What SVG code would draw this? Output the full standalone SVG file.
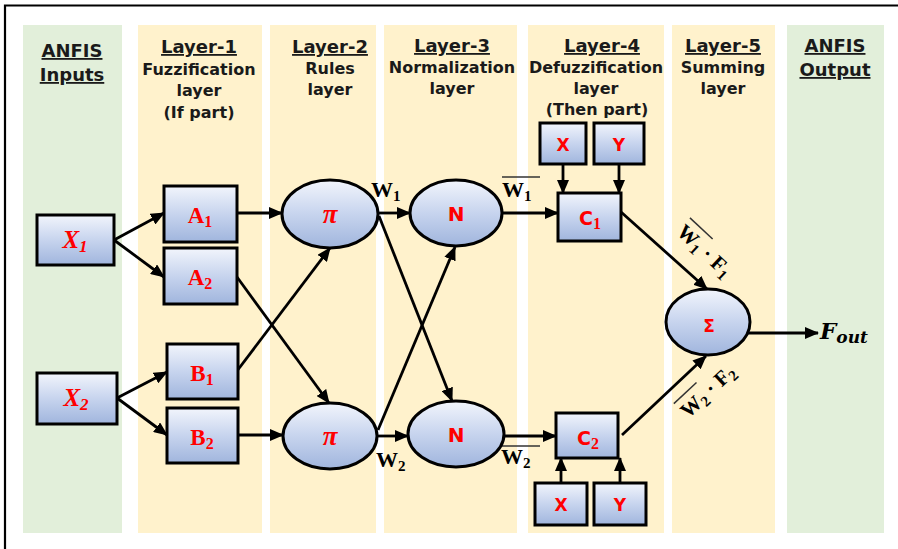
<svg xmlns="http://www.w3.org/2000/svg" width="898" height="549" viewBox="0 0 898 549">
  <defs>
    <linearGradient id="nodeFill" x1="0" y1="0" x2="0" y2="1">
      <stop offset="0" stop-color="#F2F5FC"/>
      <stop offset="0.5" stop-color="#C7D4EE"/>
      <stop offset="1" stop-color="#A0B5DD"/>
    </linearGradient>
    <marker id="arrow" viewBox="0 0 14 12" markerWidth="14" markerHeight="12" refX="13" refY="6" orient="auto" markerUnits="userSpaceOnUse">
      <path d="M0,0 L14,6 L0,12 z" fill="#000"/>
    </marker>
    <style>
      .green { fill: #E2EFDA; }
      .beige { fill: #FFF2CC; }
      .hdr { font-family: "DejaVu Sans", Verdana, sans-serif; font-weight: bold; font-size: 18px; text-anchor: middle; text-decoration: underline; fill: #1a1a1a; }
      .sub { font-family: "DejaVu Sans", Verdana, sans-serif; font-weight: bold; font-size: 16px; text-anchor: middle; fill: #1a1a1a; }
      .box { fill: url(#nodeFill); stroke: #000; stroke-width: 3; }
      .rsans { font-family: "DejaVu Sans", Verdana, sans-serif; font-weight: bold; fill: #FF0000; text-anchor: middle; }
      .rserif { font-family: "Liberation Serif", "Times New Roman", serif; font-weight: bold; fill: #FF0000; text-anchor: middle; }
      .math { font-family: "Liberation Serif", "Times New Roman", serif; font-weight: bold; fill: #000; }
      .conn { stroke: #000; stroke-width: 2.8; fill: none; marker-end: url(#arrow); }
      .bar { stroke: #333; stroke-width: 1.5; }
    </style>
  </defs>

  <rect x="0" y="0" width="898" height="549" fill="#fff"/>
  <!-- frame -->
  <path d="M5,549 V5.5 H898" fill="none" stroke="#000" stroke-width="2.2"/>

  <!-- layer columns -->
  <g id="columns">
    <rect class="green" x="23" y="25" width="99" height="508"/>
    <rect class="beige" x="138" y="25" width="124" height="508"/>
    <rect class="beige" x="270" y="25" width="106" height="508"/>
    <rect class="beige" x="384" y="25" width="133" height="508"/>
    <rect class="beige" x="528" y="25" width="136" height="508"/>
    <rect class="beige" x="672" y="25" width="103" height="508"/>
    <rect class="green" x="787" y="25" width="97" height="508"/>
  </g>

  <!-- column headings -->
  <g id="headings">
    <text class="hdr" x="72" y="57">ANFIS</text>
    <text class="hdr" x="72" y="81">Inputs</text>

    <text class="hdr" x="199" y="53">Layer-1</text>
    <text class="sub" x="199" y="75">Fuzzification</text>
    <text class="sub" x="199" y="96">layer</text>
    <text class="sub" x="199" y="118">(If part)</text>

    <text class="hdr" x="330" y="53">Layer-2</text>
    <text class="sub" x="330" y="74">Rules</text>
    <text class="sub" x="330" y="95">layer</text>

    <text class="hdr" x="452" y="52">Layer-3</text>
    <text class="sub" x="452" y="73">Normalization</text>
    <text class="sub" x="452" y="94">layer</text>

    <text class="hdr" x="602" y="52">Layer-4</text>
    <text class="sub" x="596" y="73">Defuzzification</text>
    <text class="sub" x="596" y="94">layer</text>
    <text class="sub" x="597" y="115">(Then part)</text>

    <text class="hdr" x="723" y="52">Layer-5</text>
    <text class="sub" x="723" y="73">Summing</text>
    <text class="sub" x="723" y="94">layer</text>

    <text class="hdr" x="835" y="52">ANFIS</text>
    <text class="hdr" x="835" y="76">Output</text>
  </g>

  <!-- connectors -->
  <g id="connectors">
    <line class="conn" x1="114" y1="240" x2="164" y2="213"/>
    <line class="conn" x1="114" y1="240" x2="164" y2="277"/>
    <line class="conn" x1="117" y1="398" x2="167" y2="372"/>
    <line class="conn" x1="117" y1="398" x2="167" y2="435"/>
    <line class="conn" x1="237" y1="213" x2="282" y2="213"/>
    <line class="conn" x1="237" y1="277" x2="329" y2="403"/>
    <line class="conn" x1="237" y1="371" x2="330" y2="248"/>
    <line class="conn" x1="238" y1="435" x2="283" y2="435"/>
    <line class="conn" x1="378" y1="213" x2="410" y2="213"/>
    <line class="conn" x1="379" y1="216" x2="452" y2="401"/>
    <line class="conn" x1="378" y1="430" x2="455" y2="247"/>
    <line class="conn" x1="377" y1="436" x2="408" y2="436"/>
    <line class="conn" x1="502" y1="213" x2="558" y2="213"/>
    <line class="conn" x1="505" y1="436" x2="556" y2="436"/>
    <line class="conn" x1="563" y1="164" x2="563" y2="193"/>
    <line class="conn" x1="619" y1="164" x2="619" y2="193"/>
    <line class="conn" x1="561" y1="483" x2="561" y2="458"/>
    <line class="conn" x1="620" y1="483" x2="620" y2="458"/>
    <line class="conn" x1="621" y1="212" x2="707" y2="289"/>
    <line class="conn" x1="622" y1="435" x2="706" y2="356"/>
    <line class="conn" x1="748" y1="333" x2="818" y2="333"/>
  </g>

  <!-- connector labels -->
  <g id="edge-labels">
    <text class="math" x="371" y="197" font-size="22">W<tspan font-size="15" dy="4">1</tspan></text>
    <line class="bar" x1="502" y1="177" x2="540" y2="177"/>
    <text class="math" x="502" y="197" font-size="22">W<tspan font-size="15" dy="4">1</tspan></text>
    <text class="math" x="376" y="467" font-size="22">W<tspan font-size="15" dy="4">2</tspan></text>
    <line class="bar" x1="501" y1="446" x2="540" y2="446"/>
    <text class="math" x="501" y="464" font-size="22">W<tspan font-size="15" dy="4">2</tspan></text>

    <g transform="translate(706,252) rotate(43)">
      <line class="bar" x1="-35" y1="-14" x2="-4" y2="-14"/>
      <text class="math" x="-35" y="7" font-size="21">W<tspan font-size="15" dy="4">1</tspan><tspan dy="-4"> · F</tspan><tspan font-size="15" dy="4">1</tspan></text>
    </g>
    <g transform="translate(709,390) rotate(-43)">
      <line class="bar" x1="-35" y1="-14" x2="-4" y2="-14"/>
      <text class="math" x="-35" y="7" font-size="21">W<tspan font-size="15" dy="4">2</tspan><tspan dy="-4"> · F</tspan><tspan font-size="15" dy="4">2</tspan></text>
    </g>
  </g>

  <!-- input nodes -->
  <g id="node-x1">
    <rect class="box" x="37" y="215" width="77" height="50"/>
    <text class="rserif" x="75" y="248" font-size="25" font-style="italic">X<tspan font-size="17" dy="4">1</tspan></text>
  </g>
  <g id="node-x2">
    <rect class="box" x="37" y="373" width="80" height="51"/>
    <text class="rserif" x="76" y="406" font-size="25" font-style="italic">X<tspan font-size="17" dy="4">2</tspan></text>
  </g>

  <!-- layer 1 -->
  <g id="node-a1">
    <rect class="box" x="164" y="186" width="73" height="56"/>
    <text class="rserif" x="200" y="223" font-size="23">A<tspan font-size="16" dy="4">1</tspan></text>
  </g>
  <g id="node-a2">
    <rect class="box" x="164" y="248" width="73" height="56"/>
    <text class="rserif" x="200" y="285" font-size="23">A<tspan font-size="16" dy="4">2</tspan></text>
  </g>
  <g id="node-b1">
    <rect class="box" x="167" y="344" width="71" height="55"/>
    <text class="rserif" x="202" y="381" font-size="23">B<tspan font-size="16" dy="4">1</tspan></text>
  </g>
  <g id="node-b2">
    <rect class="box" x="167" y="408" width="71" height="55"/>
    <text class="rserif" x="202" y="445" font-size="23">B<tspan font-size="16" dy="4">2</tspan></text>
  </g>

  <!-- layer 2 -->
  <g id="node-pi1">
    <ellipse class="box" cx="330" cy="214" rx="48" ry="34"/>
    <text class="rserif" x="330" y="223" font-size="27" font-style="italic">π</text>
  </g>
  <g id="node-pi2">
    <ellipse class="box" cx="330" cy="436" rx="47" ry="33"/>
    <text class="rserif" x="330" y="445" font-size="27" font-style="italic">π</text>
  </g>

  <!-- layer 3 -->
  <g id="node-n1">
    <ellipse class="box" cx="456" cy="213" rx="46" ry="33"/>
    <text class="rsans" x="456" y="221" font-size="20">N</text>
  </g>
  <g id="node-n2">
    <ellipse class="box" cx="456" cy="434" rx="48" ry="33"/>
    <text class="rsans" x="456" y="442" font-size="20">N</text>
  </g>

  <!-- layer 4 -->
  <g id="node-c1">
    <rect class="box" x="558" y="193" width="63" height="48"/>
    <text class="rsans" x="590" y="225" font-size="19">C<tspan font-family="Liberation Serif, serif" font-size="16" dy="4">1</tspan></text>
  </g>
  <g id="node-c2">
    <rect class="box" x="556" y="413" width="62" height="45"/>
    <text class="rsans" x="588" y="445" font-size="19">C<tspan font-family="Liberation Serif, serif" font-size="16" dy="4">2</tspan></text>
  </g>
  <g id="node-x-top">
    <rect class="box" x="540" y="123" width="46" height="41"/>
    <text class="rsans" x="563" y="151" font-size="17">X</text>
  </g>
  <g id="node-y-top">
    <rect class="box" x="594" y="123" width="50" height="41"/>
    <text class="rsans" x="619" y="151" font-size="17">Y</text>
  </g>
  <g id="node-x-bottom">
    <rect class="box" x="535" y="483" width="52" height="42"/>
    <text class="rsans" x="561" y="511" font-size="17">X</text>
  </g>
  <g id="node-y-bottom">
    <rect class="box" x="594" y="483" width="52" height="42"/>
    <text class="rsans" x="620" y="511" font-size="17">Y</text>
  </g>

  <!-- layer 5 -->
  <g id="node-sum">
    <ellipse class="box" cx="708" cy="322" rx="42" ry="33"/>
    <text class="rsans" x="709" y="332" font-size="17">Σ</text>
  </g>

  <!-- output -->
  <g id="node-out">
    <text x="820" y="339" font-family="DejaVu Serif, serif" font-weight="bold" font-style="italic" font-size="23" fill="#000">F<tspan font-size="17" dy="4">out</tspan></text>
  </g>
</svg>
